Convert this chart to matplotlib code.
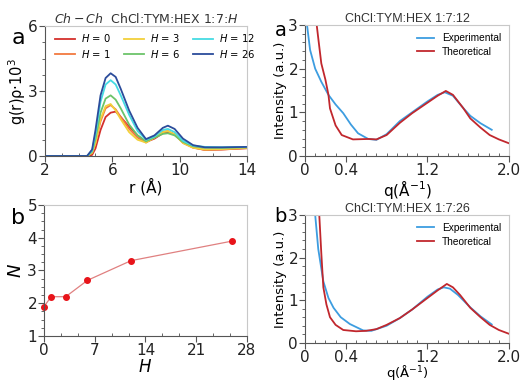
import matplotlib
matplotlib.use("Agg")
import matplotlib.pyplot as plt
from matplotlib.ticker import MultipleLocator, FixedLocator

# g(r) Ch-Ch curves for ChCl:TYM:HEX 1:7:H
r = [2, 4.5, 4.8, 5.0, 5.3, 5.6, 5.9, 6.2, 6.5, 7.0, 7.5, 8.0, 8.5, 9.0, 9.3, 9.7,
     10.2, 10.8, 11.5, 12.5, 14]
g_h0 = [0, 0, 0.05, 0.35, 1.2, 1.8, 2.0, 2.05, 1.8, 1.35, 0.95, 0.65, 0.8, 1.05, 1.1, 1.0,
        0.65, 0.4, 0.28, 0.3, 0.36]
g_h1 = [0, 0, 0.15, 0.6, 1.6, 2.2, 2.35, 2.15, 1.8, 1.25, 0.85, 0.62, 0.85, 1.12, 1.15, 1.0,
        0.6, 0.38, 0.28, 0.3, 0.36]
g_h3 = [0, 0, 0.15, 0.6, 1.7, 2.3, 2.4, 2.1, 1.7, 1.1, 0.75, 0.62, 0.85, 1.1, 1.15, 1.0,
        0.6, 0.38, 0.3, 0.32, 0.38]
g_h6 = [0, 0, 0.2, 0.8, 2.0, 2.65, 2.8, 2.6, 2.2, 1.45, 0.95, 0.68, 0.85, 1.02, 1.05, 0.95,
        0.65, 0.45, 0.38, 0.38, 0.4]
g_h12 = [0, 0, 0.25, 1.0, 2.5, 3.3, 3.5, 3.3, 2.8, 1.9, 1.15, 0.75, 0.9, 1.2, 1.25, 1.1,
         0.7, 0.48, 0.42, 0.4, 0.42]
g_h26 = [0, 0, 0.3, 1.2, 2.8, 3.6, 3.82, 3.65, 3.1, 2.1, 1.3, 0.78, 0.95, 1.3, 1.4, 1.25,
         0.8, 0.5, 0.4, 0.4, 0.42]
h_labels = ["0", "1", "3", "6", "12", "26"]
h_colors = ["#d4302c", "#f2793f", "#f2d03a", "#6cc46a", "#45dbe3", "#2b4c9b"]

# coordination number N vs H
H = [0, 1, 3, 6, 12, 26]
N = [1.9, 2.2, 2.2, 2.7, 3.3, 3.9]

# scattering, 1:7:12
q12_exp = [0.02, 0.05, 0.1, 0.16, 0.23, 0.3, 0.375, 0.45, 0.52, 0.62, 0.7, 0.8, 0.93,
           1.05, 1.2, 1.3, 1.37, 1.45, 1.55, 1.62, 1.72, 1.83]
i12_exp = [3.0, 2.43, 2.0, 1.7, 1.4, 1.18, 0.98, 0.72, 0.52, 0.39, 0.37, 0.5, 0.8,
           1.0, 1.25, 1.4, 1.46, 1.38, 1.1, 0.92, 0.75, 0.6]
q12_th = [0.115, 0.13, 0.16, 0.2, 0.23, 0.245, 0.3, 0.36, 0.47, 0.62, 0.7, 0.8, 0.93,
          1.05, 1.2, 1.3, 1.38, 1.45, 1.55, 1.62, 1.72, 1.81, 1.9, 2.0]
i12_th = [3.0, 2.7, 2.12, 1.75, 1.4, 1.09, 0.7, 0.48, 0.38, 0.39, 0.38, 0.48, 0.76,
          0.98, 1.22, 1.38, 1.49, 1.4, 1.1, 0.86, 0.65, 0.48, 0.38, 0.29]

# scattering, 1:7:26
q26_exp = [0.1, 0.13, 0.18, 0.23, 0.28, 0.35, 0.44, 0.57, 0.65, 0.8, 0.93, 1.05, 1.2,
           1.3, 1.36, 1.42, 1.5, 1.62, 1.72, 1.83]
i26_exp = [3.0, 2.2, 1.44, 1.05, 0.82, 0.6, 0.44, 0.29, 0.28, 0.4, 0.58, 0.78, 1.08,
           1.25, 1.3, 1.27, 1.12, 0.83, 0.62, 0.43]
q26_th = [0.14, 0.16, 0.18, 0.21, 0.245, 0.3, 0.375, 0.5, 0.6, 0.7, 0.8, 0.93, 1.05,
          1.2, 1.3, 1.39, 1.45, 1.52, 1.62, 1.72, 1.81, 1.9, 2.0]
i26_th = [3.0, 2.1, 1.3, 0.9, 0.6, 0.42, 0.3, 0.27, 0.28, 0.32, 0.42, 0.58, 0.78,
          1.05, 1.23, 1.38, 1.3, 1.12, 0.82, 0.6, 0.42, 0.3, 0.21]

exp_color = "#3d9de0"
th_color = "#c1272d"

plt.rcParams['font.family'] = ['DejaVu Sans']
plt.rcParams['mathtext.fontset'] = 'dejavusans'

fig = plt.figure(figsize=(5.2, 3.83), dpi=100)


def style_axes(ax):
    for side in ['top', 'right']:
        ax.spines[side].set_color('#c8c8c8')
        ax.spines[side].set_linewidth(0.8)
    for side in ['left', 'bottom']:
        ax.spines[side].set_color('#555555')
        ax.spines[side].set_linewidth(0.8)
    ax.tick_params(which='major', direction='out', length=4, width=0.8,
                   labelsize=11, pad=1, color='#555555', labelcolor='#222222')
    ax.tick_params(which='minor', direction='out', length=2.5, width=0.7, color='#666666')
    ax.tick_params(axis='x', which='minor', direction='in')


# --- a (left): g(r)
ax1 = fig.add_axes([0.0865, 0.5927, 0.3885, 0.3393])
g_all = [g_h0, g_h1, g_h3, g_h6, g_h12, g_h26]
for g, lab, c in zip(g_all, h_labels, h_colors):
    ax1.plot(r, g, color=c, lw=1.3, label=f"$H$ = {lab}")
ax1.set_xlim(2, 14)
ax1.set_ylim(0, 6)
ax1.xaxis.set_major_locator(FixedLocator([2, 6, 10, 14]))
ax1.xaxis.set_minor_locator(MultipleLocator(1))
ax1.yaxis.set_major_locator(FixedLocator([0, 3, 6]))
ax1.yaxis.set_minor_locator(MultipleLocator(0.75))
style_axes(ax1)
ax1.set_xlabel("r (Å)", fontsize=11, labelpad=0)
ax1.set_ylabel("g(r)ρ·10$^3$", fontsize=10.5, labelpad=0)
ax1.set_title("$Ch-Ch$  ChCl:TYM:HEX 1:7:$H$", fontsize=9, pad=2, color='#333333')
ax1.legend(ncol=3, loc='upper left', bbox_to_anchor=(0.02, 1.0), frameon=False,
           fontsize=7.2, handlelength=2.0, columnspacing=1.3, labelspacing=0.35,
           handletextpad=0.6, borderaxespad=0.2)
fig.text(0.022, 0.885, "a", fontsize=16)

# --- b (left): N vs H
ax2 = fig.add_axes([0.0846, 0.1227, 0.3904, 0.3421])
ax2.plot(H, N, color='#e08080', lw=0.9, marker='o', markersize=4,
         markerfacecolor='#e8141a', markeredgecolor='#e8141a', clip_on=False)
ax2.set_xlim(0, 28)
ax2.set_ylim(1, 5)
ax2.xaxis.set_major_locator(MultipleLocator(7))
ax2.xaxis.set_minor_locator(MultipleLocator(7 / 3))
ax2.yaxis.set_major_locator(MultipleLocator(1))
ax2.yaxis.set_minor_locator(MultipleLocator(0.25))
style_axes(ax2)
ax2.set_xlabel("$H$", fontsize=12, labelpad=0)
ax2.set_ylabel("$N$", fontsize=13, labelpad=2)
fig.text(0.022, 0.415, "b", fontsize=16)


def saxs_panel(rect, qe, ie, qt, it, title, letter, ly, xsize, xpad):
    ax = fig.add_axes(rect)
    ax.plot(qe, ie, color=exp_color, lw=1.3, label="Experimental")
    ax.plot(qt, it, color=th_color, lw=1.3, label="Theoretical")
    ax.set_xlim(0, 2.0)
    ax.set_ylim(0, 3)
    ax.xaxis.set_major_locator(FixedLocator([0, 0.4, 1.2, 2.0]))
    ax.set_xticklabels(["0", "0.4", "1.2", "2.0"])
    ax.xaxis.set_minor_locator(MultipleLocator(0.1))
    ax.yaxis.set_major_locator(MultipleLocator(1))
    ax.yaxis.set_minor_locator(MultipleLocator(0.2))
    style_axes(ax)
    ax.set_xlabel("q(Å$^{-1}$)", fontsize=xsize, labelpad=xpad)
    ax.set_ylabel("Intensity (a.u.)", fontsize=9.5, labelpad=1)
    ax.set_title(title, fontsize=9, pad=2, family='Liberation Sans', color='#333333')
    leg = ax.legend(loc='upper right', frameon=False, fontsize=7.3, handlelength=1.6,
                    labelspacing=0.35, borderaxespad=0.4)
    for t in leg.get_texts():
        t.set_family('Liberation Sans')
    fig.text(0.528, ly, letter, fontsize=14)
    return ax


saxs_panel([0.5865, 0.5927, 0.3925, 0.342], q12_exp, i12_exp, q12_th, i12_th,
           "ChCl:TYM:HEX 1:7:12", "a", 0.905, 11, 0)
saxs_panel([0.5865, 0.105, 0.3925, 0.334], q26_exp, i26_exp, q26_th, i26_th,
           "ChCl:TYM:HEX 1:7:26", "b", 0.42, 9.5, -1)

fig.savefig("out.png", dpi=100)
